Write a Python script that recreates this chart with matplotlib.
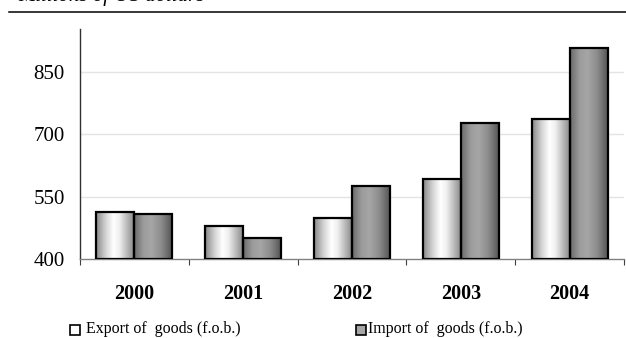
import matplotlib
matplotlib.use('Agg')
import matplotlib.pyplot as plt
import numpy as np
from matplotlib.colors import LinearSegmentedColormap
from matplotlib.patches import Rectangle
from matplotlib.lines import Line2D

plt.rcParams['font.family'] = ['Liberation Serif', 'DejaVu Serif']

# datos (millones de USD)
years = ['2000', '2001', '2002', '2003', '2004']
exports = [512, 480, 499, 592, 736]
imports = [508, 451, 575, 727, 907]
yticks = [400, 550, 700, 850]
title = 'Millions of US dollars'
label_exp = 'Export of  goods (f.o.b.)'
label_imp = 'Import of  goods (f.o.b.)'

W, H = 626, 338
fig = plt.figure(figsize=(W / 100, H / 100), dpi=100)
ax = fig.add_axes([80 / W, 1 - 259 / H, 544 / W, 230 / H])

# gradientes tipo "cilindro"
cm_exp = LinearSegmentedColormap.from_list('exp', [
    (0.0, '#888888'), (0.25, '#d4d4d4'), (0.45, '#ffffff'),
    (0.6, '#f0f0f0'), (0.85, '#acacac'), (1.0, '#858585')])
cm_imp = LinearSegmentedColormap.from_list('imp', [
    (0.0, '#6a6a6a'), (0.25, '#9c9c9c'), (0.45, '#a6a6a6'),
    (0.7, '#8c8c8c'), (1.0, '#505050')])
grad = np.linspace(0, 1, 256).reshape(1, -1)

bw = 0.35
x = np.arange(len(years))
ymin, ymax = 400, 953

for xi, ev, iv in zip(x, exports, imports):
    ax.imshow(grad, cmap=cm_exp, aspect='auto', extent=[xi - bw, xi, ymin, ev],
              zorder=2, interpolation='bilinear')
    ax.imshow(grad, cmap=cm_imp, aspect='auto', extent=[xi, xi + bw, ymin, iv],
              zorder=2, interpolation='bilinear')
ax.bar(x - bw / 2, [e - ymin for e in exports], bw, bottom=ymin,
       facecolor='none', edgecolor='black', linewidth=1.6, zorder=3)
ax.bar(x + bw / 2, [i - ymin for i in imports], bw, bottom=ymin,
       facecolor='none', edgecolor='black', linewidth=1.6, zorder=3)

ax.set_xlim(-0.5, len(years) - 0.5)
ax.set_ylim(ymin, ymax)

# grid
for yt in yticks[1:]:
    ax.axhline(yt, color='#e4e4e4', linewidth=1.0, zorder=1)

ax.set_yticks(yticks)
ax.set_yticklabels([str(v) for v in yticks], fontsize=15)
ax.tick_params(axis='y', length=0, pad=11)

ax.set_xticks(x)
ax.set_xticklabels(years, fontsize=14.5, fontweight='bold')
ax.set_xticks(np.arange(-0.5, len(years)), minor=True)
ax.tick_params(axis='x', which='major', length=0, pad=18)
ax.tick_params(axis='x', which='minor', length=4.5, width=0.8,
               color='#404040', direction='out')

for s in ['top', 'right']:
    ax.spines[s].set_visible(False)
ax.spines['left'].set_color('#303030')
ax.spines['left'].set_linewidth(1.0)
ax.spines['bottom'].set_color('#808080')
ax.spines['bottom'].set_linewidth(1.0)

# titulo (cortado arriba, como en el original) y linea superior
fig.text(18 / W, 1 - 1 / H, title, fontsize=15, style='italic',
         va='baseline', ha='left')
fig.add_artist(Line2D([9 / W, 1.0], [1 - 12 / H, 1 - 12 / H],
                      color='black', linewidth=1.1))

# leyenda manual
def legend_item(x0, xt, cmap, label):
    fig.add_artist(Rectangle((x0 / W, 1 - 335 / H), 10 / W, 10 / H,
                             facecolor=cmap(0.45), edgecolor='black',
                             linewidth=1.2))
    fig.text(xt / W, 1 - 329 / H, label, fontsize=11.5, va='center', ha='left')

legend_item(70, 86, cm_exp, label_exp)
legend_item(356, 368, cm_imp, label_imp)

fig.savefig('out.png', dpi=100)
